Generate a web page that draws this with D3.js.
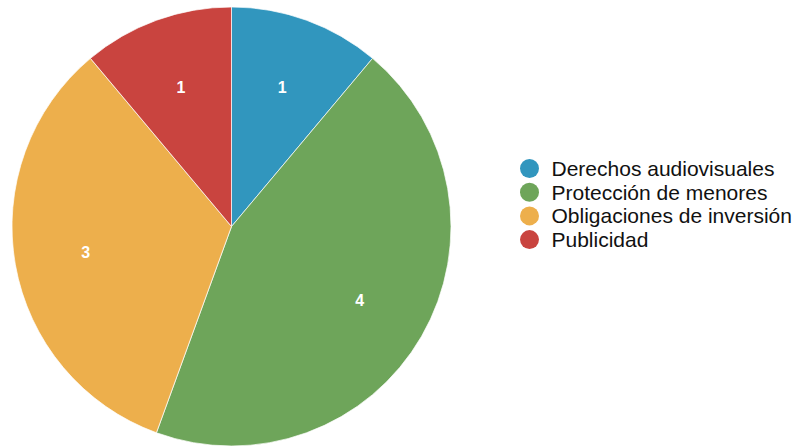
<!DOCTYPE html>
<html><head><meta charset="utf-8">
<script src="https://cdn.jsdelivr.net/npm/d3@7"></script>
<style>body{margin:0;background:#fff;}svg{display:block;}</style>
</head><body>
<svg id="c" width="805" height="446"></svg>
<script>
const categories = ["Derechos audiovisuales", "Protección de menores", "Obligaciones de inversión", "Publicidad"];
const values = [1, 4, 3, 1];
const colors = ["#3196be", "#6ea55a", "#edaf4c", "#c9443f"];

const svg = d3.select("#c");
const cx = 231.5, cy = 226.5, R = 219.5;
const g = svg.append("g").attr("transform", `translate(${cx},${cy})`);
const data = categories.map((c, i) => ({c, v: values[i], col: colors[i]}));
const pie = d3.pie().value(d => d.v).sort(null);
const arc = d3.arc().innerRadius(0).outerRadius(R);
const labelArc = d3.arc().innerRadius(148).outerRadius(148);
const arcs = pie(data);
g.selectAll("path").data(arcs).join("path")
  .attr("d", arc).attr("fill", d => d.data.col)
  .attr("stroke", "#fff").attr("stroke-width", 0.7);
g.selectAll("text").data(arcs).join("text")
  .attr("transform", d => `translate(${labelArc.centroid(d)})`)
  .attr("text-anchor", "middle").attr("dy", "0.35em")
  .attr("fill", "#fff").attr("font-family", "Liberation Sans, Arial, sans-serif")
  .attr("font-weight", "bold").attr("font-size", 16)
  .text(d => d.data.v);

const leg = svg.append("g");
const rows = leg.selectAll("g").data(data).join("g")
  .attr("transform", (d, i) => `translate(529.5,${168.5 + i * 23.7})`);
rows.append("circle").attr("r", 9.5).attr("fill", d => d.col);
rows.append("text").attr("x", 22).attr("dy", "0.35em")
  .attr("font-family", "Liberation Sans, Arial, sans-serif").attr("font-size", 21)
  .attr("fill", "#111").text(d => d.c);
</script>
</body></html>
